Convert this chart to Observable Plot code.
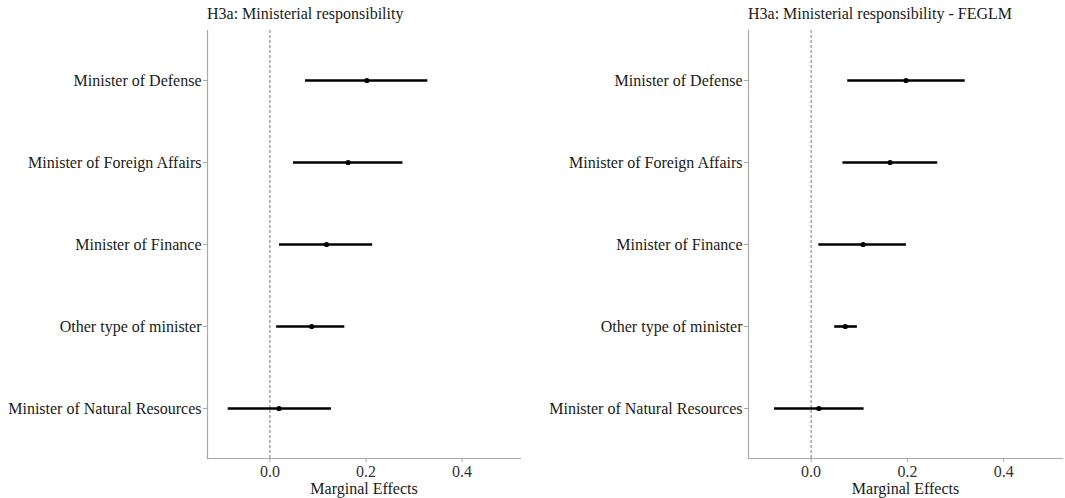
<!DOCTYPE html>
<html>
<head>
<meta charset="utf-8">
<script src="https://cdn.jsdelivr.net/npm/d3@7"></script>
<script src="https://cdn.jsdelivr.net/npm/@observablehq/plot@0.6"></script>
<style>
  html, body { margin: 0; padding: 0; background: #fff; }
  #wrap { display: flex; width: 1065px; height: 498px; }
  .panel { position: relative; }
  .title { position: absolute; top: 5px; font-family: "Liberation Serif", "Times New Roman", serif; font-size: 16px; color: #1a1a1a; white-space: nowrap; }
</style>
</head>
<body>
<div id="wrap"></div>
<script>
const categories = [
  "Minister of Defense",
  "Minister of Foreign Affairs",
  "Minister of Finance",
  "Other type of minister",
  "Minister of Natural Resources"
];
// Panel 1: H3a: Ministerial responsibility
const est1 = [0.202, 0.163, 0.118, 0.087, 0.019];
const lo1  = [0.073, 0.048, 0.019, 0.013, -0.088];
const hi1  = [0.328, 0.276, 0.213, 0.155, 0.127];
// Panel 2: H3a: Ministerial responsibility - FEGLM
const est2 = [0.197, 0.164, 0.108, 0.071, 0.016];
const lo2  = [0.075, 0.065, 0.015, 0.048, -0.077];
const hi2  = [0.319, 0.262, 0.197, 0.095, 0.109];
const xTicks = [0.0, 0.2, 0.4];
const titles = ["H3a: Ministerial responsibility", "H3a: Ministerial responsibility - FEGLM"];
const xLabel = "Marginal Effects";

const panels = [
  {title: titles[0], est: est1, lo: lo1, hi: hi1, width: 532, ml: 207, mr: 12},
  {title: titles[1], est: est2, lo: lo2, hi: hi2, width: 533, ml: 216, mr: 3}
];

const wrap = document.getElementById("wrap");
for (const p of panels) {
  const data = categories.map((c, i) => ({cat: c, est: p.est[i], lo: p.lo[i], hi: p.hi[i]}));
  const div = document.createElement("div");
  div.className = "panel";
  div.style.width = p.width + "px";
  const t = document.createElement("div");
  t.className = "title";
  t.style.left = p.ml + "px";
  t.textContent = p.title;
  div.appendChild(t);

  const chart = Plot.plot({
    width: p.width,
    height: 498,
    marginTop: 30,
    marginBottom: 40,
    marginLeft: p.ml,
    marginRight: p.mr,
    style: {fontFamily: "'Liberation Serif', 'Times New Roman', serif", fontSize: "16px", background: "white", color: "#1a1a1a"},
    x: {domain: [-0.13, 0.522], ticks: xTicks, tickFormat: d3.format(".1f"), label: null},
    y: {type: "point", domain: categories, padding: 0.6, label: null},
    marks: [
      Plot.ruleX([0], {stroke: "#777", strokeWidth: 1, strokeDasharray: "3,2"}),
      Plot.frame({anchor: "bottom", stroke: "#aaa", strokeWidth: 1.2}),
      Plot.frame({anchor: "left", stroke: "#aaa", strokeWidth: 1.2}),
      Plot.axisX({ticks: xTicks, tickFormat: d3.format(".1f"), tickSize: 4, tickPadding: 3, stroke: "#aaa", fill: "#333", label: null}),
      Plot.axisY({tickSize: 4, tickPadding: 2, stroke: "#aaa", fill: "#1a1a1a", label: null}),
      Plot.text([xLabel], {frameAnchor: "bottom", dy: 35, text: d => d, fill: "#1a1a1a", fontSize: 16}),
      Plot.link(data, {x1: "lo", x2: "hi", y1: "cat", y2: "cat", stroke: "black", strokeWidth: 2.6}),
      Plot.dot(data, {x: "est", y: "cat", r: 2.6, fill: "black", stroke: "none"})
    ]
  });
  div.appendChild(chart);
  wrap.appendChild(div);
}
</script>
</body>
</html>
